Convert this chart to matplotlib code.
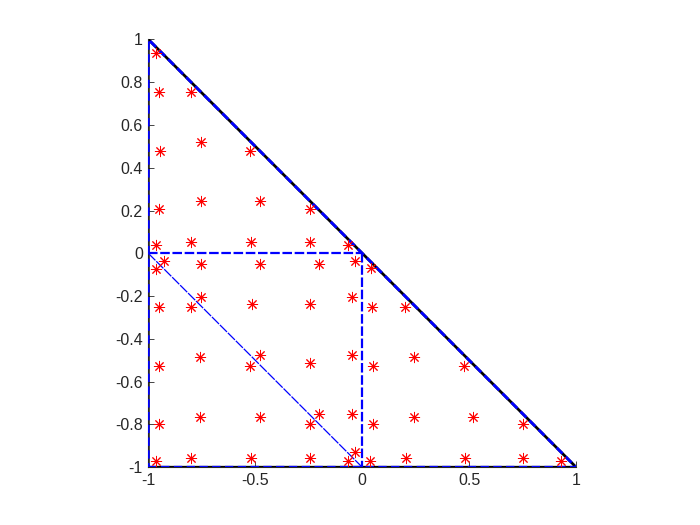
import matplotlib
matplotlib.use('Agg')
import matplotlib.pyplot as plt

plt.rcParams['font.family'] = ['Liberation Sans', 'DejaVu Sans']

# triangle vertices
tri_x = [-1, 1, -1, -1]
tri_y = [-1, -1, 1, -1]

# sub-division lines
hor_x = [-1, 0]
hor_y = [0, 0]
ver_x = [0, 0]
ver_y = [0, -1]
diag_x = [-1, 0]
diag_y = [0, -1]

# quadrature points, one set per sub-triangle
top_x = [-0.963, -0.949, -0.800, -0.945, -0.756, -0.523, -0.949, -0.756, -0.478, -0.246,
         -0.963, -0.800, -0.522, -0.246, -0.067]
top_y = [0.934, 0.756, 0.756, 0.477, 0.520, 0.477, 0.205, 0.243, 0.243, 0.205,
         0.038, 0.052, 0.052, 0.052, 0.038]

right_x = [0.039, 0.047, 0.202, 0.050, 0.244, 0.477, 0.048, 0.244, 0.520, 0.751,
           0.037, 0.204, 0.480, 0.751, 0.930]
right_y = [-0.069, -0.250, -0.250, -0.527, -0.484, -0.527, -0.797, -0.764, -0.764, -0.797,
           -0.969, -0.956, -0.956, -0.956, -0.969]

low_x = [-0.963, -0.949, -0.800, -0.757, -0.527, -0.949, -0.949, -0.757, -0.480, -0.243,
         -0.963, -0.800, -0.522, -0.246, -0.067]
low_y = [-0.075, -0.250, -0.250, -0.484, -0.527, -0.527, -0.797, -0.764, -0.764, -0.797,
         -0.969, -0.956, -0.956, -0.956, -0.969]

mid_x = [-0.928, -0.754, -0.477, -0.201, -0.033, -0.754, -0.516, -0.243, -0.048, -0.477,
         -0.243, -0.048, -0.201, -0.048, -0.033]
mid_y = [-0.036, -0.048, -0.048, -0.048, -0.036, -0.202, -0.239, -0.239, -0.202, -0.476,
         -0.515, -0.476, -0.751, -0.751, -0.928]

fig = plt.figure(figsize=(7, 5.25), dpi=100)
ax = fig.add_axes([0.13, 0.11, 0.775, 0.815])

# outer triangle: black solid under a blue dashed line
ax.plot(tri_x, tri_y, color='k', lw=2, zorder=2)
ax.plot(tri_x, tri_y, color='b', lw=2, linestyle=(0, (3, 1.6)), zorder=3)

# inner lines
ax.plot(hor_x, hor_y, color='b', lw=1.6, linestyle=(0, (4.3, 1.2)), zorder=3)
ax.plot(ver_x, ver_y, color='b', lw=1.6, linestyle=(0, (4.3, 1.2)), zorder=3)
ax.plot(diag_x, diag_y, color='b', lw=0.9, linestyle=(0, (8, 1)), zorder=3)

asterisk = (8, 2, 0)
for px, py in [(top_x, top_y), (right_x, right_y), (low_x, low_y), (mid_x, mid_y)]:
    ax.plot(px, py, linestyle='none', marker=asterisk, color='r', ms=8, mew=0.7, zorder=4)

ax.set_xlim(-1, 1)
ax.set_ylim(-1, 1)
ax.set_aspect('equal')
ax.set_xticks([-1, -0.5, 0, 0.5, 1])
ax.set_xticklabels(['-1', '-0.5', '0', '0.5', '1'])
ax.set_yticks([-1, -0.8, -0.6, -0.4, -0.2, 0, 0.2, 0.4, 0.6, 0.8, 1])
ax.set_yticklabels(['-1', '-0.8', '-0.6', '-0.4', '-0.2', '0', '0.2', '0.4', '0.6', '0.8', '1'])
ax.tick_params(direction='in', length=4, width=0.6, colors='0.15', labelsize=11.5, pad=4)
ax.spines['top'].set_visible(False)
ax.spines['right'].set_visible(False)
ax.spines['left'].set_color('0.15')
ax.spines['bottom'].set_color('0.15')

fig.savefig('out.png', dpi=100)
